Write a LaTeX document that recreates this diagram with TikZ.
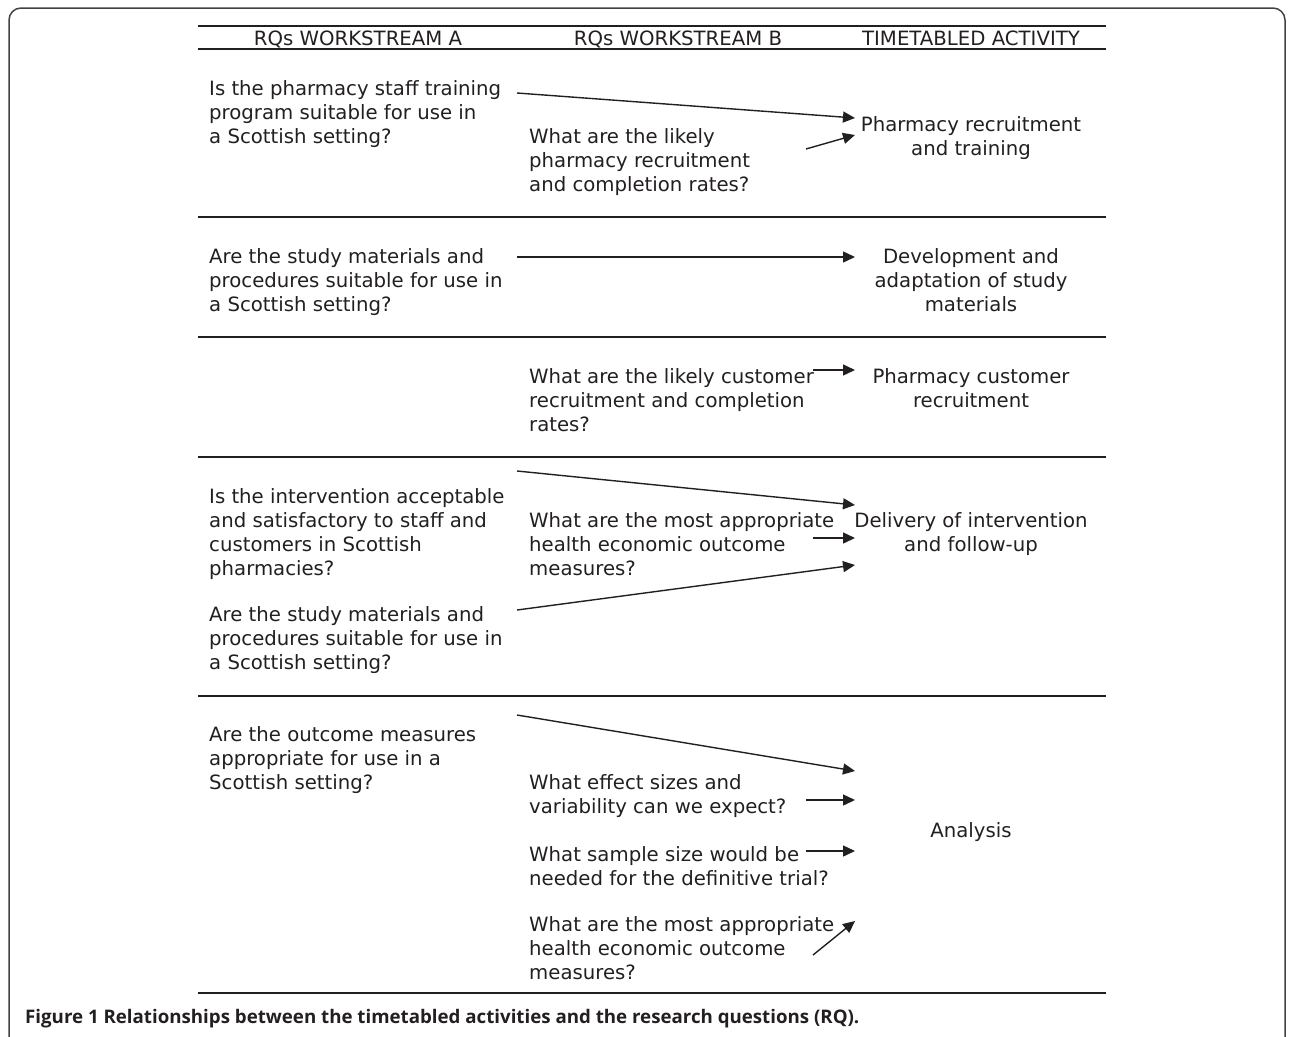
\documentclass[tikz,border=0pt]{standalone}
\usepackage{fontspec}
\setmainfont{DejaVu Sans}
\newfontfamily\capfont{Open Sans}
\usetikzlibrary{arrows.meta}
\definecolor{ink}{HTML}{231F20}
\begin{document}
\begin{tikzpicture}[x=1pt,y=-1pt,
  txt/.style={anchor=base west,align=left,inner sep=0pt,text=ink,font=\fontsize{19.7}{24}\selectfont},
  act/.style={txt,anchor=base,align=center},
  rule/.style={ink,line width=1.2pt},
  link/.style={ink,line width=1.4pt,-{Triangle[length=12pt,width=11pt]}}]
  \useasboundingbox (0,0) rectangle (1290,1036);
  % frame
  \draw[ink!85,line width=1.5pt,rounded corners=12pt] (9,1045) -- (9,8) -- (1285,8) -- (1285,1045);

  % header
  \draw[rule] (198,26) -- (1106,26);
  \draw[rule] (198,49) -- (1106,49);
  \node[act] (hA) at (358,45) {RQs WORKSTREAM A};
  \node[act] (hB) at (678,45) {RQs WORKSTREAM B};
  \node[act] (hC) at (971,45) {TIMETABLED ACTIVITY};

  % row separators
  \draw[rule] (198,217) -- (1106,217);
  \draw[rule] (198,337) -- (1106,337);
  \draw[rule] (198,457) -- (1106,457);
  \draw[rule] (198,696) -- (1106,696);
  \draw[rule] (198,993) -- (1106,993);

  % row 1 (nodes sit on the baseline of their last line)
  \node[txt] (a1) at (209,143) {Is the pharmacy staff training\\program suitable for use in\\a Scottish setting?};
  \node[txt] (b1) at (529,191) {What are the likely\\pharmacy recruitment\\and completion rates?};
  \node[act] (c1) at (971,155) {Pharmacy recruitment\\and training};
  \coordinate (a1out) at (517,93);
  \coordinate (b1out) at (806,149);
  \coordinate (c1in) at (855,118);
  \coordinate (c1in2) at (855,135);
  \draw[link] (a1out) -- (c1in);
  \draw[link] (b1out) -- (c1in2);

  % row 2
  \node[txt] (a2) at (209,311) {Are the study materials and\\procedures suitable for use in\\a Scottish setting?};
  \node[act] (c2) at (971,311) {Development and\\adaptation of study\\materials};
  \coordinate (a2out) at (517,257);
  \coordinate (c2in) at (855,257);
  \draw[link] (a2out) -- (c2in);

  % row 3
  \node[txt] (b3) at (529,431) {What are the likely customer\\recruitment and completion\\rates?};
  \node[act] (c3) at (971,407) {Pharmacy customer\\recruitment};
  \coordinate (b3out) at (813,370);
  \coordinate (c3in) at (855,370);
  \draw[link] (b3out) -- (c3in);

  % row 4
  \node[txt] (a4) at (209,575) {Is the intervention acceptable\\and satisfactory to staff and\\customers in Scottish\\pharmacies?};
  \node[txt] (a4b) at (209,669) {Are the study materials and\\procedures suitable for use in\\a Scottish setting?};
  \node[txt] (b4) at (529,575) {What are the most appropriate\\health economic outcome\\measures?};
  \node[act] (c4) at (971,551) {Delivery of intervention\\and follow-up};
  \coordinate (a4out) at (517,471);
  \coordinate (a4bout) at (517,610);
  \coordinate (b4out) at (813,538);
  \coordinate (c4in) at (855,505);
  \coordinate (c4in2) at (855,538);
  \coordinate (c4in3) at (855,565);
  \draw[link] (a4out) -- (c4in);
  \draw[link] (b4out) -- (c4in2);
  \draw[link] (a4bout) -- (c4in3);

  % row 5
  \node[txt] (a5) at (209,789) {Are the outcome measures\\appropriate for use in a\\Scottish setting?};
  \node[txt] (b5) at (529,813) {What effect sizes and\\variability can we expect?};
  \node[txt] (b5b) at (529,885) {What sample size would be\\needed for the definitive trial?};
  \node[txt] (b5c) at (529,979) {What are the most appropriate\\health economic outcome\\measures?};
  \node[act] (c5) at (971,837) {Analysis};
  \coordinate (a5out) at (517,715);
  \coordinate (b5out) at (806,800);
  \coordinate (b5bout) at (806,851);
  \coordinate (b5cout) at (813,955);
  \coordinate (c5in) at (855,771);
  \coordinate (c5in2) at (855,800);
  \coordinate (c5in3) at (855,851);
  \coordinate (c5in4) at (855,921);
  \draw[link] (a5out) -- (c5in);
  \draw[link] (b5out) -- (c5in2);
  \draw[link] (b5bout) -- (c5in3);
  \draw[link] (b5cout) -- (c5in4);

  % caption
  \node[anchor=base west,inner sep=0pt,text=ink,font=\capfont\bfseries\fontsize{18.7}{22}\selectfont] (cap) at (25,1023)
    {Figure 1 Relationships between the timetabled activities and the research questions (RQ).};
\end{tikzpicture}
\end{document}
